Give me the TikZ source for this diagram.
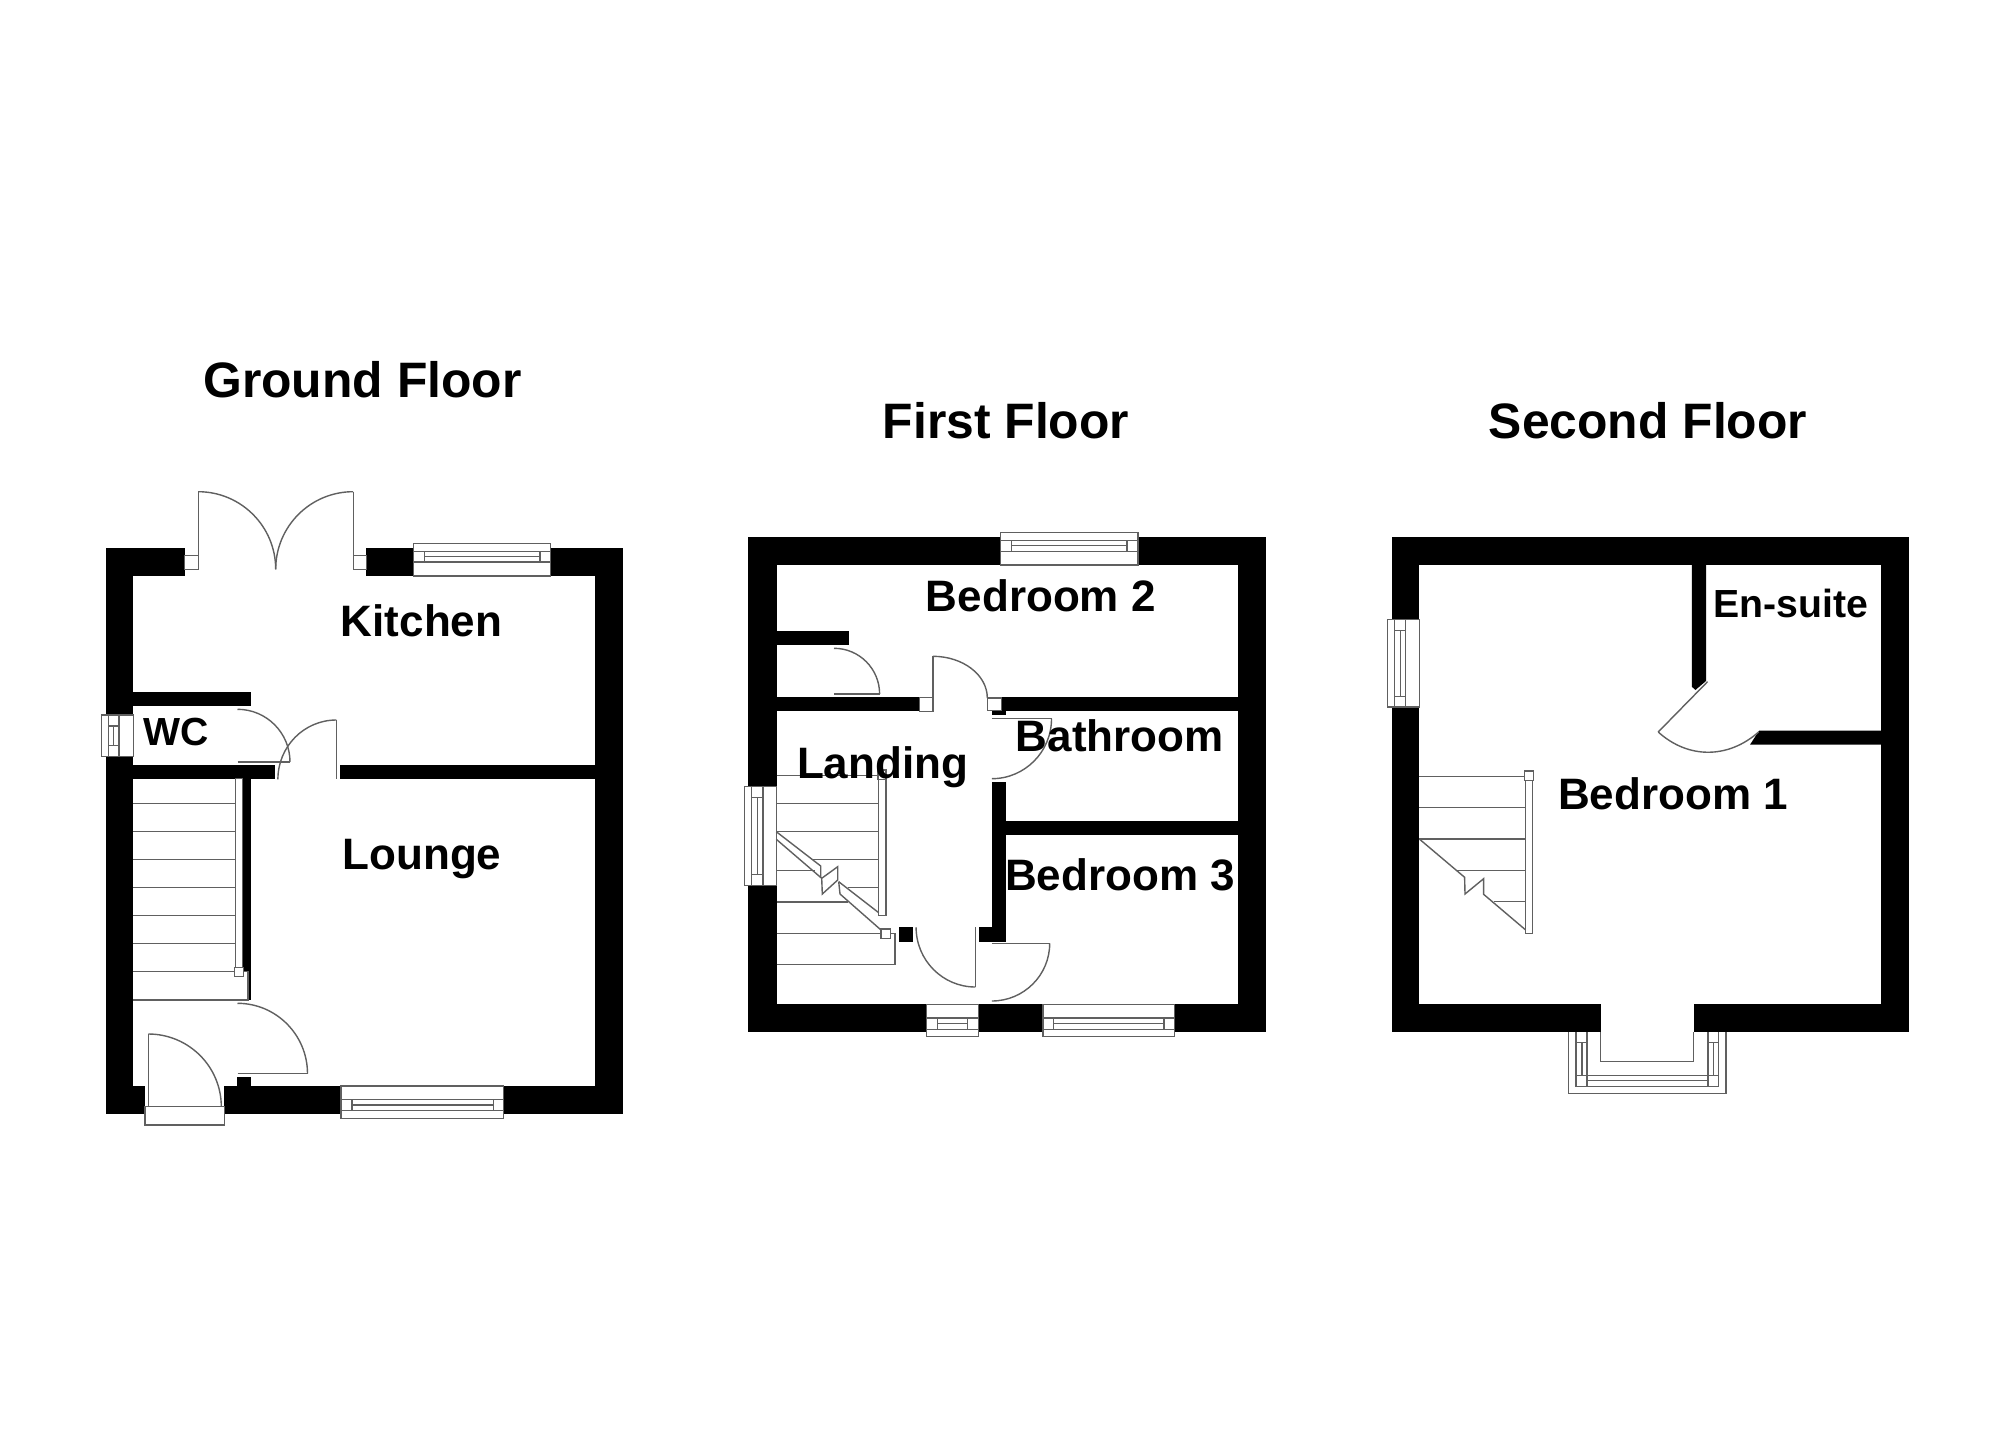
\documentclass[tikz,border=0pt]{standalone}
\usepackage{fontspec}
\setmainfont{Liberation Sans}
\usetikzlibrary{calc}
\definecolor{linegrey}{HTML}{606060}
\tikzset{
  wall/.style={fill=black,draw=none},
  thinl/.style={draw=linegrey,line width=0.7pt,line join=miter},
  frame/.style={draw=linegrey,line width=0.7pt,fill=white},
  title/.style={anchor=base,font=\fontsize{24.9}{28}\selectfont\bfseries,inner sep=0pt},
  room/.style={anchor=base,font=\fontsize{22.0}{26}\selectfont\bfseries,inner sep=0pt},
  roomsm/.style={anchor=base,font=\fontsize{19.6}{23}\selectfont\bfseries,inner sep=0pt}
}
% wall rectangle
\newcommand{\wl}[4]{\fill[wall] (#1,#2) rectangle (#3,#4);}
% quarter door swing: leaves start horizontally, arrives vertically
\newcommand{\swing}[4]{\draw[thinl] (#1,#2) .. controls ($(#1,#2)!0.5523!(#3,#2)$) and ($(#3,#4)!0.5523!(#3,#2)$) .. (#3,#4);}
% horizontal window: x0 x1 ytop ybot ya yb yc r0 r1
\newcommand{\hwin}[9]{%
  \draw[frame] (#1,#3) rectangle (#2,#4);
  \draw[thinl] (#1,#5) -- (#2,#5) (#1,#7) -- (#2,#7);
  \draw[thinl] (#8,#5) -- (#8,#7) (#9,#5) -- (#9,#7) (#8,#6) -- (#9,#6);}
% vertical window: x0 x1 ytop ybot xa xb xc r0 r1
\newcommand{\vwin}[9]{%
  \draw[frame] (#1,#3) rectangle (#2,#4);
  \draw[thinl] (#5,#3) -- (#5,#4) (#7,#3) -- (#7,#4);
  \draw[thinl] (#5,#8) -- (#7,#8) (#5,#9) -- (#7,#9) (#6,#8) -- (#6,#9);}
\begin{document}
\begin{tikzpicture}[x=0.5pt,y=-0.5pt]
\useasboundingbox (0,0) rectangle (2000,1454);
\fill[white] (0,0) rectangle (2000,1454);

%%%%%%%%%% GROUND FLOOR
\wl{105.7}{548.3}{184.6}{576}
\wl{366.4}{548.3}{622.9}{576}
\wl{105.7}{548.3}{133.2}{1113.7}
\wl{595.4}{548.3}{622.9}{1113.7}
\wl{105.7}{1086}{145}{1113.7}
\wl{224.3}{1086}{622.9}{1113.7}
\wl{133.2}{692}{251.4}{706}
\wl{133.2}{765.3}{274.6}{779.3}
\wl{340}{765.3}{595.4}{779.3}
\wl{242.5}{779.3}{251.4}{972}
\wl{247.9}{972}{251.4}{1000}
\wl{237.1}{1076.7}{251.4}{1086}
% french doors
\draw[frame] (184.6,555.3) rectangle (198.2,569.3);
\draw[frame] (353.2,555.3) rectangle (366.4,569.3);
\draw[thinl] (198.2,555.3) -- (198.2,491.7);
\draw[thinl] (353.2,555.3) -- (353.2,491.7);
\swing{198.2}{491.7}{275.7}{569.3}
\swing{353.2}{491.7}{275.7}{569.3}
% windows
\hwin{413.6}{550.7}{543.7}{576}{551.3}{556.7}{562}{424.6}{540}
\hwin{341}{503.6}{1086}{1118.3}{1099.3}{1105}{1110.7}{351.8}{493.6}
\vwin{101.4}{133.2}{715}{756.3}{108.6}{113.6}{118.9}{726}{745.3}
% WC door
\draw[thinl] (237.5,762) -- (290,762);
\swing{237.5}{709.3}{290}{762}
% kitchen door
\draw[thinl] (336.4,720) -- (336.4,779.3);
\swing{336.4}{720}{277.9}{779.3}
% stairs
\foreach \y in {803.3,831.3,859.7,887.7,915.7,943.7,971.7}{\draw[thinl] (133.2,\y) -- (235.7,\y);}
\draw[thinl] (133.2,1000) -- (247.9,1000) -- (247.9,971.7) -- (243.6,971.7);
\draw[frame] (235.7,778.3) rectangle (242.5,967.3);
\draw[frame] (234.4,967.3) rectangle (243.6,976.6);
% hall door
\draw[thinl] (237.5,1073.7) -- (307.5,1073.7);
\swing{237.5}{1003.3}{307.5}{1073.7}
% front door
\draw[frame] (145,1106.7) rectangle (224.3,1125);
\draw[thinl] (148.3,1034) -- (148.3,1106.7);
\swing{148.3}{1034}{221.3}{1106.7}

%%%%%%%%%% FIRST FLOOR
\wl{748.4}{537.3}{1266.1}{565}
\wl{748.4}{537.3}{776.5}{1032}
\wl{1238.4}{537.3}{1266.1}{1032}
\wl{748.4}{1004.3}{1266.1}{1032}
\wl{776.5}{631.3}{848.7}{645.3}
\wl{776.5}{697.3}{919.2}{711.3}
\wl{1001.3}{697.3}{1238.4}{711.3}
\wl{991.8}{711.3}{1005.9}{715}
\wl{991.8}{781.7}{1005.9}{940}
\wl{978.5}{927.3}{1005.9}{941.7}
\wl{1005.9}{821}{1238.4}{835}
\wl{898.5}{927.3}{913.3}{941.7}
% windows
\hwin{1000.6}{1138.1}{532.7}{565}{540.7}{545.7}{551.3}{1011.5}{1126.9}
\hwin{926.3}{978.5}{1004.3}{1036.3}{1018}{1023.7}{1029.3}{937.5}{967.6}
\hwin{1043}{1174.6}{1004.3}{1036.3}{1018}{1023.7}{1029.3}{1053.6}{1164}
\vwin{744.2}{776.5}{786.7}{885.7}{751.6}{757.2}{762.8}{797.7}{874.3}
% cupboard door
\draw[thinl] (834,694) -- (879.6,694);
\swing{834}{648.3}{879.6}{694}
% bedroom 2 door
\draw[frame] (919.2,697.3) rectangle (932.9,711.3);
\draw[frame] (987.3,698) rectangle (1001.3,710.7);
\draw[thinl] (932.9,697.3) -- (932.9,656.3);
\swing{932.9}{656.3}{987.3}{698}
% bathroom door
\draw[thinl] (991.8,718.7) -- (1051.5,718.7);
\swing{991.8}{778.7}{1051.5}{718.7}
% landing door
\draw[thinl] (975.4,927.3) -- (975.4,987);
\swing{975.4}{987}{916.1}{927.3}
% bedroom 3 door
\draw[thinl] (991.8,943.3) -- (1049.7,943.3);
\swing{991.8}{1001}{1049.7}{943.3}
% stairs
\draw[thinl] (776.5,775.3) -- (877.8,775.3);
\draw[thinl] (776.5,803.3) -- (878.7,803.3);
\draw[thinl] (776.5,831.3) -- (878.7,831.3);
\draw[thinl] (811.7,859.3) -- (878.7,859.3);
\draw[thinl] (776.5,870.3) -- (815,870.3);
\draw[thinl] (848,887.3) -- (878.7,887.3);
\draw[thinl] (776.5,902) -- (848.3,902);
\draw[thinl] (776.5,933.7) -- (881,933.7);
\draw[thinl] (776.5,964.7) -- (895,964.7) -- (895,933.7) -- (890.7,933.7);
\draw[frame] (878.7,779) rectangle (886,915.3);
\draw[frame] (877.8,770) rectangle (885.8,779.3);
\draw[thinl] (776.3,831.7) -- (820.7,866) -- (820.7,877.5);
\draw[thinl] (776.3,839.3) -- (821.7,878.3);
\draw[thinl] (821.7,878.3) -- (837.7,866.7) -- (837.7,880) -- (822.3,894) -- cycle;
\draw[thinl] (838.7,881.7) -- (878.7,912.7);
\draw[thinl] (838.7,881.7) -- (840,894) -- (881,930);
\draw[frame] (881,929) rectangle (890.7,938.3);

%%%%%%%%%% SECOND FLOOR
\wl{1391.8}{536.7}{1908.9}{564.7}
\wl{1391.8}{536.7}{1419.3}{1032}
\wl{1881.4}{536.7}{1908.9}{1032}
\wl{1391.8}{1003.7}{1600.7}{1032}
\wl{1693.6}{1003.7}{1908.9}{1032}
\fill[wall] (1691.8,564.7) -- (1706,564.7) -- (1706,681) -- (1695.4,690) -- (1691.8,686.7) -- cycle;
\fill[wall] (1759,730.7) -- (1881.4,730.7) -- (1881.4,744.7) -- (1750,744.7) -- cycle;
\vwin{1387.5}{1419.3}{619.7}{707}{1394.6}{1400.4}{1405.7}{630.7}{696.7}
% en-suite door
\draw[thinl] (1707.5,681.7) -- (1658.2,732);
\draw[thinl] (1658.2,732) .. controls (1688,759) and (1728,759) .. (1758.6,732);
% stairs
\draw[thinl] (1419.3,776.3) -- (1525.7,776.3);
\draw[thinl] (1419.3,807.7) -- (1525.7,807.7);
\draw[thinl] (1419.3,839) -- (1525.7,839);
\draw[thinl] (1456.8,870.3) -- (1525.7,870.3);
\draw[thinl] (1493.6,901.7) -- (1525.7,901.7);
\draw[thinl] (1419.3,839) -- (1464.6,877.3) -- (1465,894) -- (1483.6,878.7) -- (1483.6,894.3) -- (1525.7,930);
\draw[frame] (1525.7,776) rectangle (1532.5,933.7);
\draw[frame] (1524.3,771) rectangle (1533.6,780.7);
% bay window
\draw[thinl] (1568.2,1032) -- (1568.2,1093.7) -- (1726,1093.7) -- (1726,1032);
\draw[thinl] (1600.7,1032) -- (1600.7,1061.7) -- (1693.6,1061.7) -- (1693.6,1032);
\draw[thinl] (1576,1032) -- (1576,1086.3) -- (1718.2,1086.3) -- (1718.2,1032);
\draw[thinl] (1587.1,1032) -- (1587.1,1086.3);
\draw[thinl] (1707.9,1032) -- (1707.9,1086.3);
\draw[thinl] (1576,1075.3) -- (1718.2,1075.3);
\draw[thinl] (1587.1,1080.7) -- (1707.9,1080.7);
\draw[thinl] (1576,1042.3) -- (1587.1,1042.3) (1707.9,1042.3) -- (1718.2,1042.3);
\draw[thinl] (1581.8,1042.3) -- (1581.8,1075.3) (1713.2,1042.3) -- (1713.2,1075.3);

%%%%%%%%%% LABELS
\node[title] (tg) at (362.5,398) {Ground Floor};
\node[title] (tf) at (1006,438.3) {First Floor};
\node[title] (ts) at (1648,438.3) {Second Floor};
\node[room] (kitchen) at (421.6,636.7) {Kitchen};
\node[room] (lounge) at (422,869) {Lounge};
\node[roomsm] (wc) at (175.8,745) {WC};
\node[room] (bed2) at (1040.8,611) {Bedroom 2};
\node[room] (bath) at (1119.7,751.7) {Bathroom};
\node[room] (landing) at (882.6,778.3) {Landing};
\node[room] (bed3) at (1120,890.3) {Bedroom 3};
\node[roomsm] (ensuite) at (1791,617.7) {En-suite};
\node[room] (bed1) at (1673,809) {Bedroom 1};
\end{tikzpicture}
\end{document}
